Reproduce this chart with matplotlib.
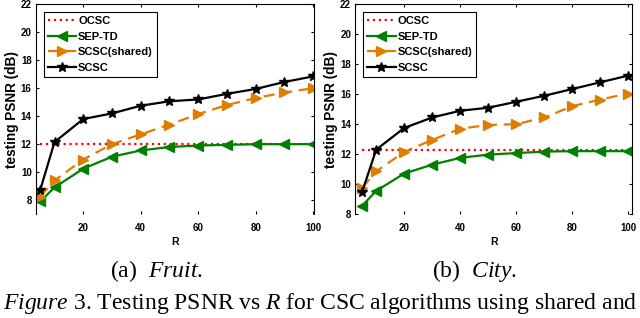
import numpy as np
import matplotlib
matplotlib.use('Agg')
import matplotlib.pyplot as plt

plt.rcParams['mathtext.fontset'] = 'custom'
plt.rcParams['mathtext.rm'] = 'Liberation Serif'
plt.rcParams['mathtext.it'] = 'Liberation Serif:italic'

R = [5, 10, 20, 30, 40, 50, 60, 70, 80, 90, 100]

# (a) Fruit
ocsc_a = 12.0
sep_a = [7.9, 8.9, 10.25, 11.1, 11.55, 11.8, 11.9, 11.95, 12.0, 12.0, 12.0]
shared_a = [8.25, 9.4, 10.9, 12.0, 12.7, 13.4, 14.15, 14.8, 15.3, 15.7, 16.0]
scsc_a = [8.7, 12.15, 13.8, 14.2, 14.75, 15.07, 15.2, 15.6, 15.95, 16.45, 16.85]

# (b) City
ocsc_b = 12.25
sep_b = [8.55, 9.55, 10.7, 11.3, 11.75, 11.97, 12.07, 12.17, 12.2, 12.2, 12.2]
shared_b = [9.75, 10.85, 12.15, 12.95, 13.7, 13.95, 14.0, 14.45, 15.2, 15.65, 16.05]
scsc_b = [9.5, 12.3, 13.75, 14.45, 14.9, 15.1, 15.5, 15.9, 16.35, 16.8, 17.25]

yticks = [8, 10, 12, 14, 16, 18, 20, 22]
xticks = [20, 40, 60, 80, 100]

green = (0.0, 0.5, 0.0)
orange = (0.87, 0.49, 0.0)

fig = plt.figure(figsize=(6.4, 3.18), dpi=100)
ax1 = fig.add_axes([0.056, 0.327, 0.435, 0.659])
ax2 = fig.add_axes([0.555, 0.327, 0.4325, 0.659])

panels = [(ax1, ocsc_a, sep_a, shared_a, scsc_a, (3.5, 100.4), (7.0, 22)),
          (ax2, ocsc_b, sep_b, shared_b, scsc_b, (2.5, 101.3), (8, 22))]

for ax, oc, sep, sh, sc, xl, yl in panels:
    ax.plot([R[0], R[-1]], [oc, oc], ':', color='red', lw=1.6, label='OCSC')
    ax.plot(R, sep, '-', color=green, lw=1.6, marker='<', ms=6.5, label='SEP-TD')
    ax.plot(R, sh, '--', color=orange, lw=1.6, marker='>', ms=6.5,
            dashes=(5, 3), label='SCSC(shared)')
    ax.plot(R, sc, '-', color='black', lw=1.6, marker='*', ms=7, label='SCSC')
    ax.set_xlim(*xl)
    ax.set_ylim(*yl)
    ax.set_xticks(xticks)
    ax.set_yticks(yticks)
    ax.tick_params(direction='in', length=2, width=0.8, labelsize=7,
                   top=True, right=True)
    ax.tick_params(axis='x', pad=6.5)
    ax.tick_params(axis='y', pad=3)
    for lab in ax.get_xticklabels() + ax.get_yticklabels():
        lab.set_fontweight('bold')
        lab.set_family('Liberation Sans')
    ax.spines['bottom'].set_visible(False)
    for s in ['left', 'right', 'top']:
        ax.spines[s].set_linewidth(0.8)
    ax.set_xlabel('R', fontsize=7.5, fontweight='bold', family='Liberation Sans', labelpad=3)
    ax.set_ylabel('testing PSNR (dB)', fontsize=9.8, fontweight='bold',
                  family='Liberation Sans', labelpad=1.5)
    leg = ax.legend(loc='upper left',
                    prop={'family': 'Liberation Sans', 'weight': 'bold', 'size': 8},
                    handlelength=2.6, handletextpad=0.15, labelspacing=0.5,
                    borderpad=0.35, borderaxespad=0.7, fancybox=False,
                    framealpha=1, edgecolor='black')
    leg.get_frame().set_linewidth(0.8)

fig.text(0.245, 0.129, r'(a)  $\mathit{Fruit}$.', ha='center', va='baseline',
         fontsize=17, family='Liberation Serif')
fig.text(0.742, 0.129, r'(b)  $\mathit{City}$.', ha='center', va='baseline',
         fontsize=17, family='Liberation Serif')
fig.text(0.004, 0.028, r'$\mathit{Figure}$ 3. Testing PSNR vs $R$ for CSC algorithms using shared and',
         ha='left', va='baseline', fontsize=17, family='Liberation Serif')

fig.savefig('out.png', dpi=100)
